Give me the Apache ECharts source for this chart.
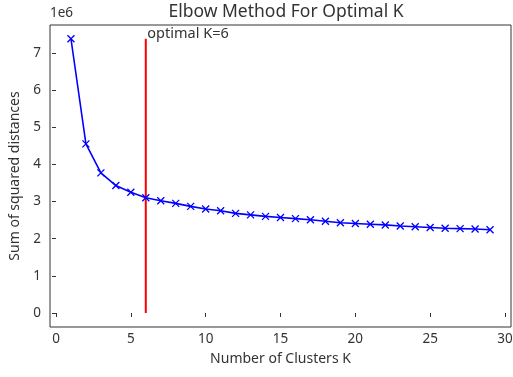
<!DOCTYPE html>
<html>
<head>
<meta charset="utf-8">
<script src="https://cdn.jsdelivr.net/npm/echarts@6/dist/echarts.min.js"></script>
<style>
  html, body { margin: 0; padding: 0; background: #fff; }
  #chart { width: 513px; height: 377px; }
</style>
</head>
<body>
<div id="chart"></div>
<script>
// K 值与对应的 SSE（原始单位）
var ks = [1, 2, 3, 4, 5, 6, 7, 8, 9, 10, 11, 12, 13, 14, 15,
          16, 17, 18, 19, 20, 21, 22, 23, 24, 25, 26, 27, 28, 29];
var sse = [7.38, 4.55, 3.77, 3.43, 3.25, 3.10, 3.02, 2.95, 2.87, 2.80,
           2.75, 2.68, 2.64, 2.60, 2.57, 2.54, 2.51, 2.47, 2.43, 2.41,
           2.39, 2.37, 2.34, 2.32, 2.30, 2.28, 2.27, 2.26, 2.24].map(function (v) { return v * 1e6; });
var optimalK = 6;
var xTicks = [0, 5, 10, 15, 20, 25, 30];
var yTicks = [0, 1, 2, 3, 4, 5, 6, 7].map(function (v) { return v * 1e6; });

var font = 'Noto Sans';
var ink = '#333333';

var chart = echarts.init(document.getElementById('chart'));
var lineData = ks.map(function (k, i) { return [k, sse[i]]; });
var vline = [[optimalK, 0], {
    value: [optimalK, sse[0]],
    label: {
        show: true, position: 'right', distance: 1, offset: [0, -5],
        formatter: 'optimal K=' + optimalK,
        color: ink, fontFamily: font, fontSize: 14.5
    }
}];

chart.setOption({
    animation: false,
    title: {
        text: 'Elbow Method For Optimal K',
        left: 281, top: -2, textAlign: 'center',
        textStyle: { fontFamily: font, fontSize: 17.5, fontWeight: 'normal', color: ink }
    },
    graphic: [{
        type: 'text', left: 50, top: 6,
        style: { text: '1e6', fontFamily: font, fontSize: 13.5, fill: ink }
    }],
    grid: {
        left: 50, right: 2, top: 25, bottom: 50,
        outerBoundsMode: 'none', containLabel: false,
        show: true, borderColor: ink, borderWidth: 1
    },
    xAxis: {
        type: 'value', min: -0.4, max: 30.4,
        name: 'Number of Clusters K', nameLocation: 'middle', nameGap: 25,
        nameTextStyle: { fontFamily: font, fontSize: 14, color: ink },
        axisLine: { show: false },
        splitLine: { show: false },
        axisTick: { show: true, length: 4, customValues: xTicks, lineStyle: { color: ink } },
        axisLabel: { customValues: xTicks, margin: 5, fontFamily: font, fontSize: 13.5, color: ink }
    },
    yAxis: {
        type: 'value', min: -0.377e6, max: 7.75e6,
        name: 'Sum of squared distances', nameLocation: 'middle', nameGap: 27,
        nameTextStyle: { fontFamily: font, fontSize: 14, color: ink },
        axisLine: { show: false },
        splitLine: { show: false },
        axisTick: { show: true, length: 4, customValues: yTicks, lineStyle: { color: ink } },
        axisLabel: {
            customValues: yTicks, margin: 9, fontFamily: font, fontSize: 13.5, color: ink,
            formatter: function (v) { return String(Math.round(v / 1e6)); }
        }
    },
    series: [{
        name: 'SSE',
        type: 'line',
        data: lineData,
        symbol: 'path://M0,0L10,10M10,0L0,10',
        symbolSize: 7,
        itemStyle: { color: 'transparent', borderColor: '#0000ff', borderWidth: 1.3 },
        lineStyle: { color: '#0000ff', width: 1.6 },
        z: 3
    }, {
        name: 'optimal',
        type: 'line',
        data: vline,
        showSymbol: true,
        symbol: 'circle',
        symbolSize: 1,
        itemStyle: { color: 'rgba(0,0,0,0)' },
        lineStyle: { color: '#ff0000', width: 2 },
        z: 2
    }]
});
</script>
</body>
</html>
